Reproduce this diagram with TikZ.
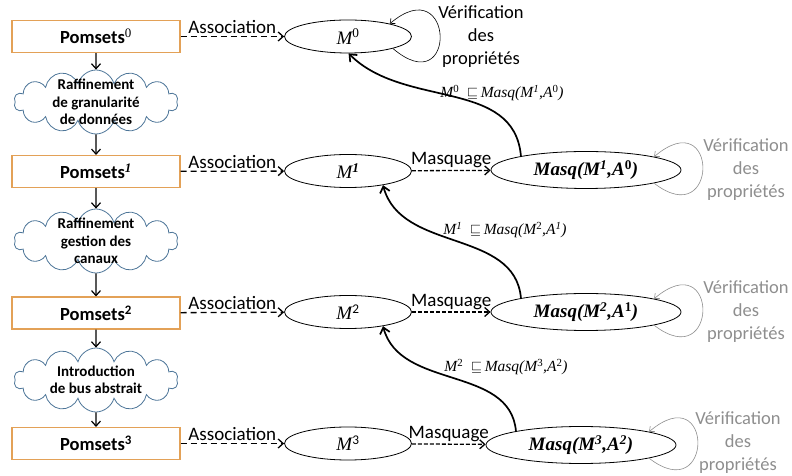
\documentclass[tikz,border=0pt]{standalone}
\usepackage{fontspec}
\setmainfont{Carlito}
\newfontfamily\tms{Liberation Serif}
\usetikzlibrary{arrows.meta,shapes.geometric,shapes.symbols}
\definecolor{Orange}{HTML}{E3A157}
\definecolor{CloudBlue}{HTML}{4D7598}
\definecolor{Gris}{HTML}{8E8E8E}
\tikzset{pomset/.style={draw=Orange,fill=white,line width=1.1pt,minimum width=168pt,minimum height=32pt,inner sep=0pt,font=\fontsize{18.5}{20}\selectfont\bfseries},nuage/.style={cloud,cloud puffs=14,aspect=2.5,draw=CloudBlue,line width=.8pt,inner sep=-12pt,minimum width=164pt,minimum height=64pt,align=center,font=\fontsize{15}{17.5}\selectfont\bfseries},modele/.style={ellipse,draw,line width=.8pt,minimum width=127pt,minimum height=33pt,inner sep=0pt,font=\fontsize{19}{20}\selectfont\tms\itshape},masq/.style={ellipse,draw,line width=.8pt,minimum width=190pt,minimum height=37pt,inner sep=0pt,font=\fontsize{19}{20}\selectfont\tms\bfseries\itshape},assoc/.style={-{Straight Barb[length=5pt,width=9pt]},line width=1.3pt,dash pattern=on 6pt off 4pt},masque/.style={assoc,dash pattern=on 4pt off 2pt},etiq/.style={font=\fontsize{19}{20}\selectfont,anchor=south,inner sep=2pt},fleche/.style={-{Straight Barb[length=5pt,width=9pt]},line width=1.2pt},raff/.style={-{Straight Barb[length=6pt,width=10pt]},line width=1.7pt},verif/.style={-{Straight Barb[length=4pt,width=7pt]},line width=.6pt},verift/.style={align=center,font=\fontsize{18.5}{23}\selectfont},incl/.style={font=\fontsize{15.5}{16}\selectfont\tms\itshape}}

\begin{document}
\begin{tikzpicture}[x=1pt,y=1pt]
  \useasboundingbox (0,0) rectangle (792,476);
  % pomsets et raffinements
  \node[pomset] (p0) at (96,439.5) {Pomsets\textsuperscript{\tms\mdseries 0}};
  \node[nuage] (r0) at (96,374) {Raffinement\\de granularité\\de données};
  \node[pomset] (p1) at (96,304.5) {Pomsets\textsuperscript{\tms\itshape 1}};
  \node[nuage] (r1) at (96,235) {Raffinement\\gestion des\\canaux};
  \node[pomset] (p2) at (96,163) {Pomsets\textsuperscript{2}};
  \node[nuage] (r2) at (96,96) {Introduction\\de bus abstrait};
  \node[pomset] (p3) at (96,32.5) {Pomsets\textsuperscript{3}};
  \foreach \a/\b in {p0/r0,r0/p1,p1/r1,r1/p2,p2/r2,r2/p3} \draw[fleche] (\a)--(\b);
  % modeles
  \node[modele] (m0) at (348,439.5) {M\textsuperscript{\upshape 0}};
  \node[modele] (m1) at (348,305) {M\textsuperscript{\bfseries 1}};
  \node[modele] (m2) at (348,164) {M\textsuperscript{\normalfont 2}};
  \node[modele] (m3) at (348,32.5) {M\textsuperscript{\normalfont 3}};
  \foreach \i in {0,...,3} \draw[assoc] (p\i) -- node[etiq]{Association} (m\i);
  % modeles masques
  \node[masq] (q1) at (586,306) {Masq(M\textsuperscript{1},A\textsuperscript{\upshape 0})};
  \node[masq] (q2) at (586,164) {Masq(M\textsuperscript{2},A\textsuperscript{\upshape 1})};
  \node[masq] (q3) at (581,31) {Masq(M\textsuperscript{3},A\textsuperscript{2})};
  \foreach \i in {1,2,3} \draw[masque] (m\i) -- node[etiq]{Masquage} (q\i);
  % raffinements entre modeles
  \draw[raff] (q1.168) to[out=95,in=-45] (m0.-88);
  \draw[raff] (q2.168) to[out=95,in=-75] (m1.-22);
  \draw[raff] (q3.168) to[out=95,in=-75] (m2.-22);
  \node[incl] (i0) at (502,383) {M\textsuperscript{\upshape 0}~~$\sqsubseteq$\,Masq(M\textsuperscript{1},A\textsuperscript{\upshape 0})};
  \node[incl] (i1) at (505,246) {M\textsuperscript{1}~~$\sqsubseteq$\,Masq(M\textsuperscript{\upshape 2},A\textsuperscript{1})};
  \node[incl] (i2) at (506,109) {M\textsuperscript{\upshape 2}~~$\sqsubseteq$\,Masq(M\textsuperscript{\upshape 3},A\textsuperscript{\upshape 2})};
  % verification
  \draw[verif] (m0.-15) .. controls +(65,-55) and +(65,55) .. (m0.17);
  \node[verift] (v0) at (481,439) {Vérification\\des\\propriétés};
  \foreach \i in {1,2,3} \draw[verif,Gris] (q\i.-11) .. controls +(65,-50) and +(65,55) .. (q\i.11);
  \node[verift,text=Gris] (v1) at (746,306) {Vérification\\des\\propriétés};
  \node[verift,text=Gris] (v2) at (746,164) {Vérification\\des\\propriétés};
  \node[verift,text=Gris] (v3) at (738,33) {Vérification\\des\\propriétés};
\end{tikzpicture}
\end{document}
